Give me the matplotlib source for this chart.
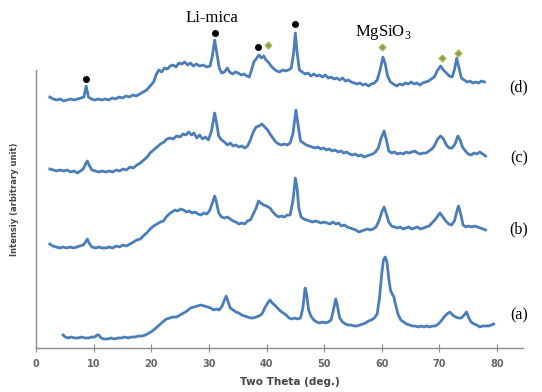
import matplotlib
matplotlib.use("Agg")
import matplotlib.pyplot as plt

plt.rcParams["mathtext.fontset"] = "custom"
plt.rcParams["mathtext.rm"] = "Liberation Serif"

# two theta (deg), intensity (arbitrary, offset per pattern)
patron_d = [(2.4, 251), (3.0, 249), (3.6, 248), (4.2, 249), (4.8, 247), (5.4, 248), (6.0, 249), (6.6, 248),
            (7.2, 249), (7.8, 250), (8.3, 251), (8.7, 262), (9.1, 251), (9.6, 249), (10.2, 248), (10.8, 249),
            (11.4, 248), (12.0, 249), (12.6, 248), (13.2, 250), (13.8, 249), (14.4, 251), (15.0, 250), (15.6, 252),
            (16.2, 251), (16.8, 253), (17.4, 252), (18.0, 254), (18.6, 256), (19.2, 258), (19.8, 262), (20.4, 266),
            (20.9, 274), (21.3, 278), (21.8, 276), (22.3, 280), (22.8, 279), (23.3, 282), (23.8, 283), (24.3, 281),
            (24.8, 285), (25.3, 284), (25.8, 286), (26.3, 283), (26.8, 285), (27.3, 282), (27.8, 284), (28.4, 282),
            (29.0, 283), (29.6, 281), (30.2, 282), (30.6, 292), (31.0, 308), (31.4, 294), (31.8, 280), (32.2, 275),
            (32.7, 276), (33.2, 280), (33.6, 276), (34.1, 274), (34.6, 276), (35.1, 275), (35.6, 273), (36.1, 274),
            (36.6, 272), (37.0, 271), (37.4, 278), (37.8, 286), (38.3, 290), (38.7, 293), (39.1, 290), (39.5, 292),
            (39.9, 288), (40.3, 286), (40.8, 282), (41.3, 279), (41.8, 277), (42.3, 276), (42.8, 278), (43.3, 277),
            (43.8, 278), (44.3, 280), (44.7, 295), (45.0, 315), (45.3, 296), (45.7, 278), (46.2, 276), (46.7, 274),
            (47.2, 275), (47.7, 272), (48.2, 274), (48.7, 272), (49.2, 273), (49.7, 271), (50.2, 273), (50.7, 270),
            (51.2, 271), (51.7, 269), (52.2, 270), (52.7, 268), (53.2, 270), (53.7, 267), (54.2, 268), (54.7, 266),
            (55.2, 265), (55.7, 264), (56.2, 265), (56.7, 263), (57.2, 264), (57.7, 262), (58.2, 264), (58.7, 265),
            (59.2, 268), (59.7, 278), (60.2, 291), (60.6, 284), (61.0, 272), (61.5, 266), (62.0, 264), (62.6, 262),
            (63.1, 264), (63.6, 263), (64.1, 265), (64.6, 264), (65.1, 266), (65.6, 264), (66.1, 265), (66.6, 263),
            (67.1, 265), (67.6, 266), (68.1, 267), (68.6, 269), (69.1, 271), (69.6, 277), (70.2, 282), (70.7, 278),
            (71.2, 275), (71.7, 272), (72.2, 271), (72.6, 278), (73.0, 290), (73.4, 280), (73.8, 270), (74.3, 268),
            (74.8, 266), (75.3, 267), (75.8, 265), (76.3, 266), (76.8, 265), (77.3, 267), (77.8, 266)]

patron_c = [(2.4, 179), (3.0, 178), (3.6, 177), (4.2, 178), (4.8, 177), (5.4, 178), (6.0, 176), (6.6, 177),
            (7.2, 175), (7.7, 177), (8.2, 179), (8.6, 184), (8.9, 187), (9.2, 183), (9.7, 178), (10.3, 177),
            (10.9, 176), (11.5, 177), (12.1, 176), (12.7, 177), (13.3, 176), (13.9, 178), (14.5, 177), (15.1, 179),
            (15.7, 178), (16.3, 181), (16.9, 180), (17.5, 183), (18.1, 185), (18.7, 188), (19.3, 191), (19.8, 195),
            (20.4, 198), (21.0, 201), (21.6, 204), (22.2, 206), (22.7, 209), (23.3, 210), (23.8, 209), (24.4, 212),
            (25.0, 211), (25.5, 214), (26.0, 213), (26.5, 216), (27.0, 213), (27.4, 215), (27.9, 210), (28.4, 213),
            (28.9, 209), (29.4, 211), (29.9, 208), (30.4, 216), (30.8, 228), (31.0, 235), (31.3, 226), (31.7, 212),
            (32.2, 208), (32.7, 206), (33.2, 203), (33.7, 205), (34.2, 202), (34.7, 203), (35.2, 201), (35.7, 202),
            (36.2, 200), (36.7, 202), (37.2, 208), (37.7, 216), (38.2, 221), (38.7, 222), (39.2, 224), (39.7, 221),
            (40.2, 218), (40.6, 214), (41.1, 210), (41.6, 206), (42.1, 204), (42.6, 203), (43.1, 204), (43.6, 203),
            (44.1, 205), (44.6, 215), (45.1, 238), (45.5, 222), (45.9, 207), (46.4, 205), (46.9, 203), (47.4, 202),
            (47.9, 201), (48.4, 200), (48.9, 201), (49.4, 199), (49.9, 200), (50.4, 198), (50.9, 199), (51.4, 197),
            (51.9, 198), (52.4, 196), (52.9, 197), (53.4, 195), (53.9, 196), (54.4, 194), (54.9, 193), (55.4, 194),
            (55.9, 192), (56.4, 193), (56.9, 191), (57.4, 192), (57.9, 193), (58.4, 194), (58.9, 196), (59.4, 200),
            (59.9, 210), (60.4, 217), (60.8, 208), (61.2, 197), (61.7, 195), (62.2, 196), (62.7, 194), (63.2, 195),
            (63.7, 194), (64.2, 196), (64.7, 195), (65.2, 196), (65.7, 197), (66.2, 195), (66.7, 194), (67.2, 195),
            (67.7, 195), (68.2, 197), (68.7, 199), (69.2, 203), (69.7, 209), (70.2, 212), (70.7, 209), (71.2, 203),
            (71.7, 200), (72.2, 200), (72.7, 204), (73.2, 212), (73.6, 208), (74.0, 201), (74.5, 197), (75.0, 194),
            (75.5, 193), (76.0, 195), (76.5, 194), (77.0, 196), (77.5, 194), (78.0, 192)]

patron_b = [(2.4, 104), (2.9, 102), (3.5, 101), (4.1, 100), (4.7, 101), (5.3, 100), (5.9, 101), (6.5, 100),
            (7.1, 101), (7.6, 102), (8.2, 103), (8.6, 106), (8.9, 109), (9.2, 105), (9.7, 101), (10.3, 100),
            (10.9, 101), (11.5, 100), (12.1, 100), (12.7, 101), (13.3, 100), (13.9, 102), (14.5, 101), (15.1, 103),
            (15.7, 102), (16.3, 104), (16.9, 106), (17.5, 108), (18.1, 109), (18.6, 112), (19.2, 115), (19.8, 119),
            (20.4, 122), (21.0, 124), (21.6, 126), (22.1, 127), (22.6, 131), (23.1, 134), (23.6, 136), (24.1, 138),
            (24.6, 137), (25.1, 139), (25.6, 138), (26.1, 136), (26.6, 137), (27.1, 135), (27.6, 136), (28.1, 134),
            (28.6, 133), (29.1, 135), (29.6, 134), (30.1, 137), (30.6, 145), (31.0, 152), (31.3, 146), (31.7, 135),
            (32.2, 131), (32.7, 130), (33.2, 131), (33.7, 129), (34.2, 127), (34.7, 126), (35.2, 124), (35.7, 125),
            (36.2, 124), (36.7, 127), (37.2, 128), (37.7, 134), (38.2, 140), (38.6, 147), (39.0, 145), (39.5, 143),
            (40.0, 142), (40.6, 140), (41.1, 136), (41.6, 133), (42.1, 131), (42.6, 132), (43.1, 131), (43.6, 133),
            (44.1, 133), (44.6, 148), (45.0, 170), (45.3, 160), (45.6, 140), (46.0, 131), (46.5, 129), (47.0, 128),
            (47.5, 127), (48.0, 126), (48.5, 127), (49.0, 126), (49.5, 125), (50.0, 126), (50.5, 125), (51.0, 124),
            (51.5, 126), (52.0, 124), (52.5, 125), (53.0, 122), (53.5, 123), (54.0, 121), (54.5, 120), (55.0, 119),
            (55.5, 118), (56.0, 116), (56.5, 117), (57.0, 118), (57.5, 119), (58.0, 118), (58.5, 119), (59.0, 121),
            (59.5, 127), (60.0, 136), (60.4, 141), (60.8, 134), (61.2, 126), (61.7, 122), (62.2, 121), (62.7, 120),
            (63.2, 121), (63.7, 119), (64.2, 120), (64.7, 121), (65.2, 119), (65.7, 120), (66.2, 121), (66.7, 119),
            (67.2, 120), (67.7, 121), (68.2, 122), (68.7, 125), (69.2, 128), (69.7, 132), (70.1, 135), (70.6, 131),
            (71.1, 127), (71.6, 124), (72.1, 123), (72.6, 127), (73.0, 136), (73.3, 142), (73.7, 134), (74.1, 123),
            (74.6, 121), (75.1, 122), (75.6, 121), (76.1, 122), (76.6, 121), (77.1, 120), (77.6, 119), (78.0, 118)]

patron_a = [(4.7, 13), (5.1, 11), (5.6, 10), (6.1, 11), (6.7, 10), (7.3, 10), (7.9, 11), (8.5, 10),
            (9.1, 10), (9.7, 11), (10.2, 11), (10.6, 13), (10.9, 13), (11.3, 10), (11.8, 9), (12.4, 9),
            (13.0, 10), (13.6, 9), (14.2, 10), (14.8, 10), (15.4, 11), (16.0, 10), (16.6, 11), (17.2, 11),
            (17.8, 12), (18.4, 12), (19.0, 13), (19.6, 15), (20.2, 17), (20.8, 20), (21.4, 23), (22.0, 26),
            (22.6, 29), (23.2, 30), (23.8, 31), (24.4, 31), (25.0, 33), (25.6, 35), (26.2, 37), (26.8, 40),
            (27.4, 41), (28.0, 42), (28.6, 43), (29.2, 42), (29.8, 41), (30.3, 40), (30.8, 38), (31.3, 39),
            (31.8, 38), (32.3, 42), (32.7, 48), (33.0, 52), (33.3, 47), (33.7, 40), (34.2, 38), (34.7, 36),
            (35.2, 35), (35.7, 33), (36.2, 32), (36.7, 31), (37.2, 30), (37.7, 30), (38.2, 31), (38.7, 32),
            (39.2, 34), (39.7, 40), (40.2, 45), (40.6, 48), (41.0, 45), (41.4, 43), (41.9, 40), (42.4, 37),
            (42.9, 35), (43.4, 33), (43.9, 30), (44.4, 29), (44.9, 30), (45.4, 29), (45.9, 30), (46.3, 40),
            (46.7, 60), (47.0, 52), (47.3, 38), (47.7, 32), (48.2, 28), (48.7, 26), (49.2, 25), (49.7, 26),
            (50.2, 25), (50.7, 26), (51.2, 28), (51.6, 38), (52.0, 49), (52.3, 42), (52.7, 30), (53.2, 26),
            (53.7, 24), (54.2, 23), (54.7, 23), (55.2, 22), (55.7, 22), (56.2, 23), (56.7, 24), (57.2, 25),
            (57.7, 27), (58.2, 28), (58.7, 30), (59.2, 34), (59.6, 50), (60.0, 75), (60.3, 88), (60.6, 91),
            (60.9, 86), (61.2, 70), (61.5, 58), (61.8, 54), (62.1, 51), (62.4, 43), (62.8, 34), (63.3, 28),
            (63.8, 26), (64.3, 24), (64.8, 23), (65.3, 22), (65.8, 22), (66.3, 21), (66.8, 22), (67.3, 21),
            (67.8, 22), (68.3, 21), (68.8, 22), (69.3, 22), (69.8, 24), (70.3, 27), (70.8, 31), (71.3, 34),
            (71.8, 36), (72.3, 33), (72.8, 31), (73.3, 30), (73.8, 30), (74.3, 33), (74.7, 36), (75.1, 30),
            (75.5, 26), (76.0, 24), (76.5, 23), (77.0, 21), (77.5, 22), (78.0, 22), (78.5, 22), (79.0, 23),
            (79.4, 24)]

# peak markers over pattern (d)
mica_x = [8.7, 31.1, 38.6, 45.0]
mica_y = [269, 315, 301, 324]
mgsio3_x = [40.3, 60.0, 70.4, 73.2]
mgsio3_y = [303, 301, 290, 295]

etiquetas = ["(a)", "(b)", "(c)", "(d)"]
etiqueta_y = [33, 119, 190, 261]
xticks = [0, 10, 20, 30, 40, 50, 60, 70, 80]

azul = "#4a7ebb"
gris = "#8c8c8c"

fig = plt.figure(figsize=(5.42, 3.92), dpi=100)
ax = fig.add_axes([36 / 542, 44 / 392, (523 - 36) / 542, (348 - 10) / 392])

for patron in [patron_a, patron_b, patron_c, patron_d]:
    xs = [p[0] for p in patron]
    ys = [p[1] for p in patron]
    ax.plot(xs, ys, color=azul, lw=2.0, solid_joinstyle="round", clip_on=False)

ax.plot(mica_x, mica_y, "o", color="black", ms=4.0, clip_on=False)
ax.plot(mgsio3_x, mgsio3_y, "D", color="#8a9a3a", mec="#a8b55a", ms=3.4, clip_on=False)

serif = "Liberation Serif"
ax.text(30.5, 330, "Li-mica", fontsize=12, family=serif, ha="center", va="center")
ax.text(60.3, 315, r"MgSiO$_\mathrm{3}$", fontsize=12, family=serif, ha="center", va="center")
for lab, yl in zip(etiquetas, etiqueta_y):
    ax.text(83.8, yl, lab, fontsize=11.5, family=serif, ha="center", va="center")

ax.set_xlim(0, 84.5)
ax.set_ylim(0, 338)
ax.set_xticks(xticks)
ax.set_yticks([])
for s in ["top", "right"]:
    ax.spines[s].set_visible(False)
ax.spines["left"].set_bounds(0, 278)
for s in ["left", "bottom"]:
    ax.spines[s].set_color(gris)
    ax.spines[s].set_linewidth(1.0)
ax.tick_params(axis="x", direction="inout", length=6, color=gris, labelsize=7,
               labelcolor="#666666", pad=5)
for t in ax.get_xticklabels():
    t.set_fontweight("bold")

fig.text(290 / 542, 1 - 382 / 392, "Two Theta (deg.)", fontsize=7.5, fontweight="bold",
         color="#444444", ha="center", va="center")
fig.text(15 / 542, 1 - 199 / 392, "Intensiy (arbitrary unit)", fontsize=6, fontweight="bold",
         color="#444444", ha="center", va="center", rotation=90)

fig.savefig("out.png", dpi=100)
